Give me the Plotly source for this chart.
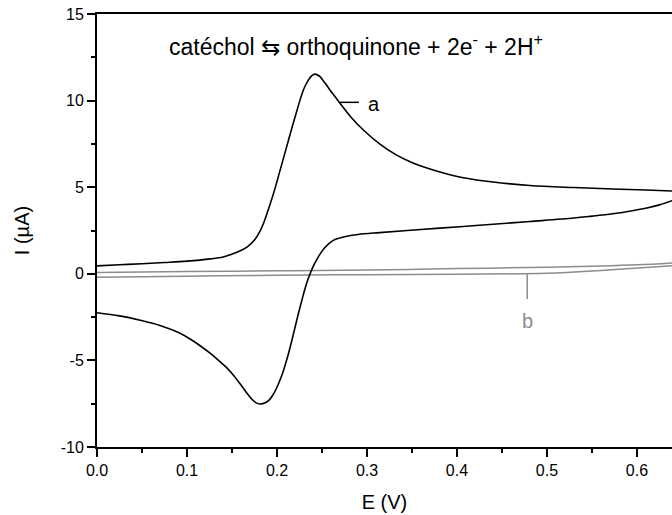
import plotly.graph_objects as go

# Curve a — forward (anodic) scan, E increasing
E_a_fwd = [0.0, 0.025, 0.05, 0.075, 0.1, 0.126, 0.14, 0.148, 0.158, 0.167, 0.175, 0.181,
           0.186, 0.19, 0.195, 0.199, 0.203, 0.21, 0.217, 0.222, 0.226, 0.23, 0.235,
           0.239, 0.242, 0.247, 0.251, 0.255, 0.259, 0.265, 0.27, 0.283, 0.296, 0.314,
           0.333, 0.351, 0.37, 0.39, 0.407, 0.44, 0.481, 0.53, 0.573, 0.61, 0.639]
I_a_fwd = [0.46, 0.52, 0.58, 0.65, 0.73, 0.86, 0.97, 1.1, 1.3, 1.56, 1.95, 2.45,
           3.05, 3.65, 4.45, 5.15, 5.9, 7.2, 8.5, 9.4, 10.1, 10.7, 11.2,
           11.45, 11.53, 11.42, 11.18, 10.9, 10.6, 10.2, 9.85, 9.0, 8.3, 7.5,
           6.85, 6.4, 6.05, 5.75, 5.55, 5.3, 5.1, 4.98, 4.9, 4.84, 4.78]

# Curve a — reverse (cathodic) scan, E decreasing
E_a_rev = [0.639, 0.625, 0.611, 0.59, 0.573, 0.55, 0.53, 0.481, 0.44, 0.407, 0.36,
           0.314, 0.29, 0.275, 0.265, 0.259, 0.253, 0.248, 0.244, 0.24, 0.236, 0.232,
           0.228, 0.224, 0.22, 0.216, 0.212, 0.208, 0.204, 0.2, 0.196, 0.192, 0.187,
           0.181, 0.176, 0.171, 0.166, 0.16, 0.152, 0.144, 0.135, 0.126, 0.115,
           0.103, 0.09, 0.07, 0.048, 0.025, 0.0]
I_a_rev = [4.22, 3.98, 3.8, 3.6, 3.47, 3.33, 3.22, 3.02, 2.86, 2.73, 2.56,
           2.38, 2.27, 2.14, 1.99, 1.8, 1.5, 1.15, 0.8, 0.4, -0.1, -0.7,
           -1.45, -2.25, -3.1, -3.95, -4.75, -5.45, -6.05, -6.55, -6.95, -7.25, -7.45,
           -7.52, -7.42, -7.18, -6.85, -6.42, -5.88, -5.42, -5.0, -4.6, -4.17,
           -3.75, -3.38, -2.98, -2.68, -2.43, -2.25]

# Curve b — blank
E_b_fwd = [0.0, 0.1, 0.2, 0.3, 0.4, 0.5, 0.56, 0.6, 0.639]
I_b_fwd = [0.08, 0.13, 0.17, 0.22, 0.3, 0.38, 0.45, 0.52, 0.63]
E_b_rev = [0.639, 0.614, 0.56, 0.5, 0.4, 0.3, 0.2, 0.1, 0.0]
I_b_rev = [0.46, 0.38, 0.19, 0.03, -0.02, -0.05, -0.08, -0.14, -0.2]

x_ticks = [0.0, 0.1, 0.2, 0.3, 0.4, 0.5, 0.6]
y_ticks = [-10, -5, 0, 5, 10, 15]

FONT = "Liberation Sans, Arial, sans-serif"
GRAY = "#8c8c8c"

fig = go.Figure()
for xs, ys in [(E_b_fwd, I_b_fwd), (E_b_rev, I_b_rev)]:
    fig.add_trace(go.Scatter(x=xs, y=ys, mode="lines",
                             line=dict(color=GRAY, width=1.5, shape="spline", smoothing=1.0),
                             showlegend=False, hoverinfo="skip"))
for xs, ys in [(E_a_fwd, I_a_fwd), (E_a_rev, I_a_rev)]:
    fig.add_trace(go.Scatter(x=xs, y=ys, mode="lines",
                             line=dict(color="black", width=1.6, shape="spline", smoothing=1.0),
                             showlegend=False, hoverinfo="skip"))

# Label leaders
fig.add_trace(go.Scatter(x=[0.27, 0.291], y=[9.9, 9.9], mode="lines",
                         line=dict(color="black", width=1.5), showlegend=False, hoverinfo="skip"))
fig.add_trace(go.Scatter(x=[0.478, 0.478], y=[0.0, -1.45], mode="lines",
                         line=dict(color=GRAY, width=1.5), showlegend=False, hoverinfo="skip"))

fig.add_annotation(x=0.308, y=9.8, text="a", showarrow=False,
                   font=dict(family=FONT, size=20, color="black"))
fig.add_annotation(x=0.478, y=-2.7, text="b", showarrow=False,
                   font=dict(family=FONT, size=20, color=GRAY))
fig.add_annotation(x=0.288, y=13.2, text="catéchol ⇆ orthoquinone + 2e<sup>-</sup> + 2H<sup>+</sup>",
                   showarrow=False, font=dict(family=FONT, size=23, color="black"))

fig.update_layout(
    width=672, height=515,
    margin=dict(l=97, r=0, t=14, b=68),
    paper_bgcolor="white", plot_bgcolor="white",
    font=dict(family=FONT, color="black"),
    xaxis=dict(range=[0, 0.6389], tickvals=x_ticks, ticktext=[f"{v:.1f}" for v in x_ticks],
               showgrid=False, zeroline=False, showline=True, linecolor="black", linewidth=2,
               mirror=True, ticks="outside", ticklen=8, tickwidth=2, tickcolor="black",
               tickfont=dict(size=16),
               minor=dict(ticks="outside", ticklen=4, tickwidth=2, tickcolor="black", dtick=0.05, tick0=0),
               title=dict(text="E (V)", font=dict(size=20), standoff=17)),
    yaxis=dict(range=[-10, 15], tickvals=y_ticks, ticktext=[str(v) for v in y_ticks],
               showgrid=False, zeroline=False, showline=True, linecolor="black", linewidth=2,
               ticks="outside", ticklen=8, tickwidth=2, tickcolor="black",
               tickfont=dict(size=16),
               minor=dict(ticks="outside", ticklen=4, tickwidth=2, tickcolor="black", dtick=2.5, tick0=0),
               title=dict(text="I (µA)", font=dict(size=20), standoff=26)),
)

fig.write_html("out.html")
